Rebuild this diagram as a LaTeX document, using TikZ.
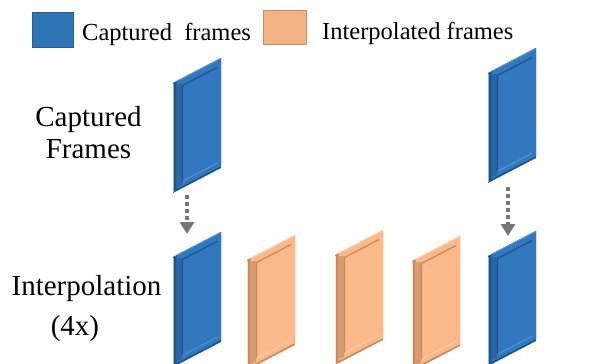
\documentclass[tikz,border=0pt]{standalone}
\usepackage{fontspec}
\setmainfont{Liberation Serif}
\newfontfamily\tnr{Liberation Serif}
\usetikzlibrary{arrows.meta}
\definecolor{blueface}{HTML}{3278BE}
\definecolor{bluedark}{HTML}{1F5290}
\definecolor{bluelight}{HTML}{5A98D6}
\definecolor{orface}{HTML}{FBB888}
\definecolor{ordark}{HTML}{C98A5E}
\definecolor{orlight}{HTML}{FFD4B2}
\definecolor{legblue}{HTML}{2E75B6}
\definecolor{legor}{HTML}{F4B183}
\definecolor{arrgray}{HTML}{767676}
\tikzset{
  lbl/.style={font=\tnr\fontsize{29}{32}\selectfont, inner sep=0pt, anchor=base},
  leg/.style={font=\tnr\fontsize{24.5}{28}\selectfont, inner sep=0pt, anchor=base west},
  legbox/.style={draw=#1!80!black, line width=0.4pt, fill=#1},
  frameanchor/.style={inner sep=0pt, minimum width=48pt, minimum height=135pt, anchor=north west},
  dotarrow/.style={draw=arrgray, line width=3.5pt, dash pattern=on 4pt off 3pt,
     -{Triangle[width=14pt,length=12pt,fill=arrgray]}, shorten >=0pt}
}
% #1 name, #2 left x, #3 top-left y, #4 colour prefix (blue/or)
\newcommand\drawframe[4]{%
  \fill[#4dark] (#2,#3) -- (#2+48,#3-25) -- (#2+48,#3+85) -- (#2,#3+110) -- cycle;
  \fill[#4face] (#2+3.5,#3-1.5) -- (#2+48,#3-25) -- (#2+48,#3+83) -- (#2+3.5,#3+106) -- cycle;
  \fill[#4face!85!black] (#2+3.5,#3+1.5) -- (#2+9,#3+1) -- (#2+9,#3+102) -- (#2+3.5,#3+104) -- cycle;
  \fill[#4face] (#2+10,#3+2) -- (#2+44.5,#3-16) -- (#2+44.5,#3+79) -- (#2+10,#3+97) -- cycle;
  \draw[#4dark, line width=1.3pt] (#2+9.5,#3+98) -- (#2+9.5,#3+2.5) -- (#2+44,#3-15.5);
  \draw[#4light, line width=1pt] (#2+4,#3-2) -- (#2+47.5,#3-24.5);
  \draw[#4light, line width=0.8pt] (#2+10,#3+98) -- (#2+44.5,#3+80);
  \draw[#4light!70!white, line width=0.8pt] (#2+0.3,#3+1) -- (#2+0.3,#3+109);
  \node[frameanchor] (#1) at (#2,#3-25) {};
}
\begin{document}
\begin{tikzpicture}[x=1pt,y=-1pt]
\useasboundingbox (0,0) rectangle (611,364);
\clip (0,0) rectangle (611,364);
% legend
\node[legbox=legblue, minimum width=41pt, minimum height=35pt, inner sep=0pt, anchor=north west] (lb) at (32,12) {};
\node[leg] (lbt) at (82,40) {Captured~~frames};
\node[legbox=legor, minimum width=43pt, minimum height=34pt, inner sep=0pt, anchor=north west] (lo) at (263,10) {};
\node[leg] (lot) at (322,39) {Interpolated frames};
% side labels
\node[lbl] (c1) at (88.5,126) {Captured};
\node[lbl] (c2) at (88.5,158) {Frames};
\node[lbl] (i1) at (86.5,295) {Interpolation};
\node[lbl] (i2) at (75,335) {(4x)};
% frames
\drawframe{ftl}{173}{83}{blue}
\drawframe{ftr}{488}{73}{blue}
\drawframe{fb1}{173}{257}{blue}
\drawframe{fb2}{247}{260}{or}
\drawframe{fb3}{335}{255}{or}
\drawframe{fb4}{412}{261}{or}
\drawframe{fb5}{488}{256}{blue}
% arrows
\draw[dotarrow] ([xshift=14pt,yshift=-2pt]ftl.south west) -- ([xshift=14pt,yshift=-2pt]fb1.north west);
\draw[dotarrow] ([xshift=20pt,yshift=-4pt]ftr.south west) -- ([xshift=20pt,yshift=-5pt]fb5.north west);
\end{tikzpicture}
\end{document}
